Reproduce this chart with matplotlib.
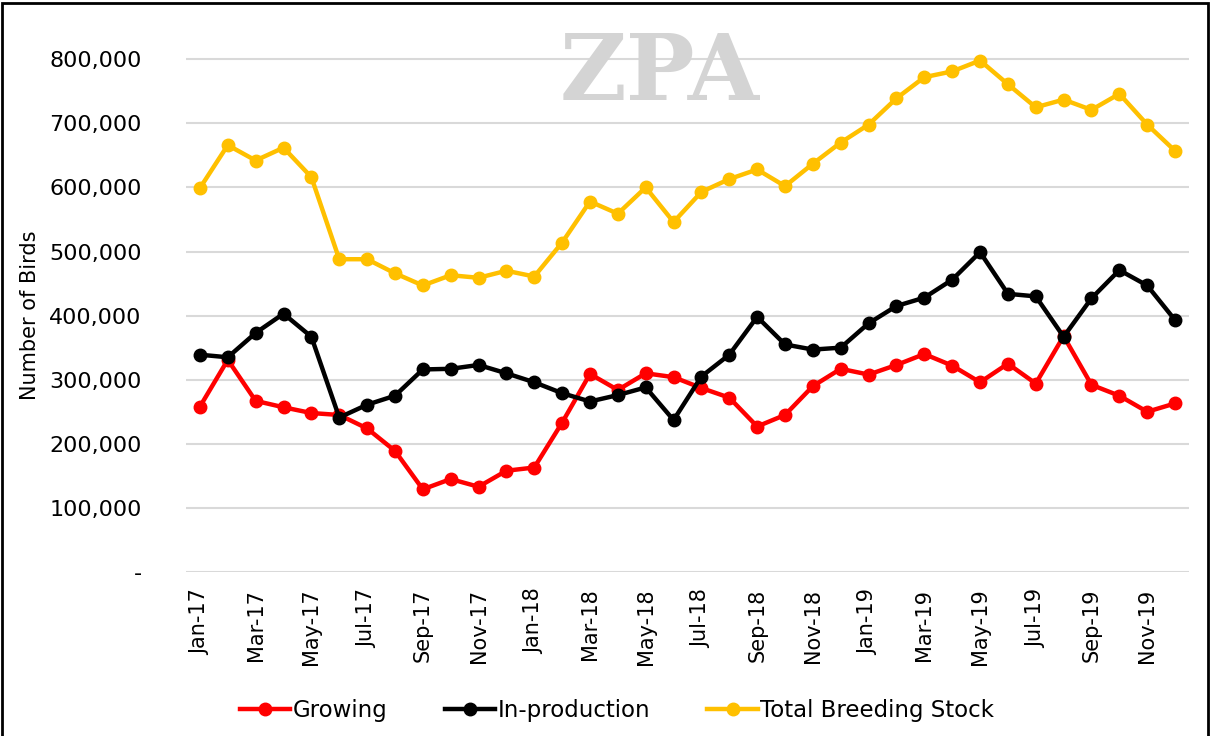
from matplotlib import pyplot as plt
from matplotlib.patches import Rectangle
from matplotlib.ticker import FuncFormatter
import numpy as np

months = ["Jan", "Feb", "Mar", "Apr", "May", "Jun",
          "Jul", "Aug", "Sep", "Oct", "Nov", "Dec"]
labels = [f"{m}-{y}" for y in ("17", "18", "19") for m in months]

growing = [258000, 331000, 267000, 257000, 248000, 245000, 224000, 189000, 129000,
           145000, 133000, 158000, 163000, 233000, 309000, 284000, 310000, 304000,
           287000, 272000, 227000, 245000, 290000, 317000, 308000, 323000, 340000,
           322000, 296000, 325000, 294000, 368000, 292000, 275000, 250000, 263000]

in_production = [339000, 335000, 373000, 403000, 367000, 241000, 261000, 275000, 316000,
                 317000, 323000, 310000, 296000, 279000, 266000, 276000, 288000, 237000,
                 305000, 339000, 398000, 355000, 347000, 350000, 388000, 415000, 428000,
                 456000, 499000, 434000, 430000, 367000, 427000, 471000, 447000, 393000]

total_stock = [599000, 666000, 642000, 662000, 616000, 488000, 488000, 466000, 447000,
               463000, 459000, 470000, 461000, 514000, 578000, 559000, 600000, 546000,
               593000, 613000, 628000, 602000, 637000, 670000, 698000, 739000, 772000,
               781000, 798000, 761000, 725000, 737000, 721000, 746000, 698000, 657000]

series = [("Growing", growing, "#FF0000"),
          ("In-production", in_production, "#000000"),
          ("Total Breeding Stock", total_stock, "#FFC000")]


def fmt(v, pos):
    if v == 0:
        return "-"
    return f"{int(v):,}"


def main():
    fig = plt.figure(figsize=(12.1, 7.36), dpi=100)
    ax = fig.add_axes([186 / 1210, 1 - 572 / 736, 1003 / 1210, 532 / 736])

    # faint watermark
    fig.text(0.545, 1 - 75 / 736, "ZPA", ha="center", va="center", fontsize=66,
             fontweight="bold", family="DejaVu Serif",
             color="#d4d4d4", zorder=0)

    x = np.arange(len(labels))
    for name, vals, col in series:
        ax.plot(x, vals, color=col, linewidth=3.2, marker="o", markersize=9,
                label=name, zorder=3)

    ax.set_xlim(-0.5, len(labels) - 0.5)
    ax.set_ylim(0, 830000)
    ax.set_yticks(np.arange(0, 800001, 100000))
    ax.yaxis.set_major_formatter(FuncFormatter(fmt))
    ax.set_xticks(x[::2])
    ax.set_xticklabels(labels[::2], rotation=90)
    ax.tick_params(axis="both", length=0, colors="#000000")
    ax.tick_params(axis="y", pad=32, labelsize=16)
    ax.tick_params(axis="x", pad=12, labelsize=15)
    ax.grid(axis="y", color="#d9d9d9", linewidth=1.5, zorder=0)
    ax.set_axisbelow(True)
    for s in ax.spines.values():
        s.set_visible(False)
    ax.patch.set_alpha(0)

    fig.text(30 / 1210, 1 - 315 / 736, "Number of Birds", rotation=90,
             ha="center", va="center", fontsize=15)

    fig.legend(loc="center", bbox_to_anchor=(0.51, 1 - 711 / 736), ncol=3,
               frameon=False, prop={"size": 16.5},
               handlelength=2.2, handletextpad=0.1, columnspacing=2.5)

    fig.patches.append(Rectangle((0.002, -0.01), 0.996, 1.006, transform=fig.transFigure,
                                 fill=False, edgecolor="black", linewidth=2))

    fig.savefig("out.png", dpi=100)


if __name__ == "__main__":
    main()
